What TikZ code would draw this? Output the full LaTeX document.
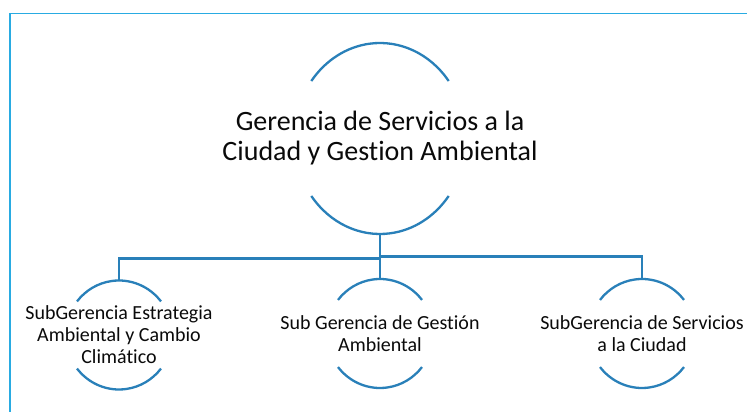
\documentclass[tikz,border=0pt]{standalone}
\usepackage{fontspec}
\setmainfont{Carlito}[Ligatures={NoCommon}]
\usetikzlibrary{shapes.geometric}
\definecolor{linkblue}{RGB}{41,128,185}
\definecolor{framecol}{RGB}{41,171,226}
\definecolor{txt}{RGB}{10,10,10}
\begin{document}
\begin{tikzpicture}[x=1pt,y=1pt,
  bigtext/.style={align=center,text=txt,font=\fontsize{28}{30}\selectfont,inner sep=0pt},
  smalltext/.style={align=center,text=txt,font=\fontsize{20}{22}\selectfont,inner sep=0pt},
  arcline/.style={draw=linkblue,line width=2.3pt},
  link/.style={draw=linkblue,line width=2.3pt}]
\useasboundingbox (0,0) rectangle (747,412);
\fill[white] (0,0) rectangle (747,412);
% frame
\draw[framecol,line width=1.6pt] (10,-5) -- (10,398.5) -- (760,398.5);
% main
\coordinate (mc) at (380,273.5);
\node[bigtext] (main) at (380,273.5) {Gerencia de Servicios a la\\Ciudad y Gestion Ambiental};
\draw[arcline] ([shift={(37:86 and 95.5)}]mc) arc[start angle=37,end angle=143,x radius=86,y radius=95.5];
\draw[arcline] ([shift={(217:86 and 95.5)}]mc) arc[start angle=217,end angle=323,x radius=86,y radius=95.5];
\coordinate (mbot) at ([yshift=-95.5]mc);
% small centers
\coordinate (c1) at (119,77);
\coordinate (c2) at (380,78.5);
\coordinate (c3) at (642,78.5);
\node[smalltext] (s1) at (119,77) {SubGerencia Estrategia\\Ambiental y Cambio\\Climático};
\node[smalltext] (s2) at (380,78.5) {Sub Gerencia de Gestión\\Ambiental};
\node[smalltext] (s3) at (642,78.5) {SubGerencia de Servicios\\a la Ciudad};
\foreach \c in {c1,c2,c3}{
  \draw[arcline] ([shift={(38:53.3 and 54.5)}]\c) arc[start angle=38,end angle=142,x radius=53.3,y radius=54.5];
  \draw[arcline] ([shift={(218:53.3 and 54.5)}]\c) arc[start angle=218,end angle=322,x radius=53.3,y radius=54.5];
}
\coordinate (t1) at ([yshift=54]c1);
\coordinate (t2) at ([yshift=54.5]c2);
\coordinate (t3) at ([yshift=54.5]c3);
% connectors
\draw[link] (mbot) -- ++(0,-24.5) -| (t1);
\draw[link] (mbot) -- (t2);
\draw[link] (mbot) -- ++(0,-22.5) -| (t3);
\end{tikzpicture}
\end{document}
